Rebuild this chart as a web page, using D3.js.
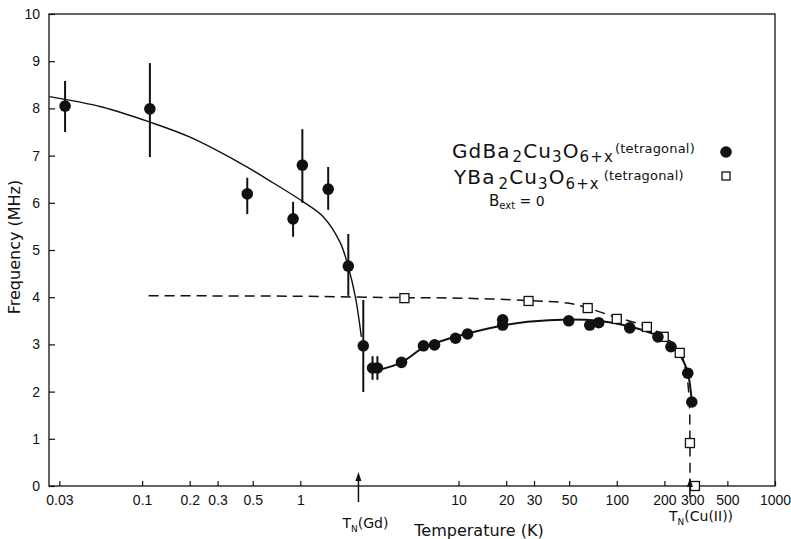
<!DOCTYPE html>
<html><head><meta charset="utf-8">
<script src="https://cdn.jsdelivr.net/npm/d3@7"></script>
<style>
html,body{margin:0;padding:0;background:#fff;}
svg{display:block;}
text{font-family:"Liberation Sans","DejaVu Sans",sans-serif;fill:#111;}
.dv{font-family:"DejaVu Sans","Liberation Sans",sans-serif;}
</style></head><body>
<svg id="chart" width="791" height="539"></svg>
<script>
// ---- data ----
const xTicks = [0.03, 0.1, 0.2, 0.3, 0.5, 1, 10, 20, 30, 50, 100, 200, 300, 500, 1000];
const xTickLabels = ["0.03","0.1","0.2","0.3","0.5","1","10","20","30","50","100","200","300","500","1000"];
const yTicks = [0,1,2,3,4,5,6,7,8,9,10];

const gdT = [0.0326, 0.112, 0.462, 0.90, 1.03, 1.50, 2.01, 2.50, 2.86, 3.07, 4.36, 6.0, 7.05, 9.57, 11.4, 19.0, 19.0, 49.7, 67.5, 76.9, 120.8, 182, 220, 281, 298];
const gdF = [8.05, 7.99, 6.19, 5.66, 6.80, 6.29, 4.66, 2.97, 2.50, 2.50, 2.62, 2.97, 2.99, 3.13, 3.22, 3.52, 3.41, 3.50, 3.41, 3.46, 3.35, 3.16, 2.95, 2.39, 1.78];
const gdErrLo = [7.50, 6.97, 5.76, 5.28, 6.00, 5.85, 4.03, 1.99, 2.25, 2.25];
const gdErrHi = [8.58, 8.96, 6.53, 6.02, 7.56, 6.76, 5.34, 3.94, 2.75, 2.75];

const ybcoT = [4.55, 27.7, 65.5, 100, 155, 198, 250, 290, 312];
const ybcoF = [3.98, 3.92, 3.77, 3.54, 3.37, 3.16, 2.82, 0.91, 0.0];

// fitted curves
const fitGdLowT = [0.026, 0.0558, 0.112, 0.201, 0.417, 0.675, 1.045, 1.40, 1.79, 2.01, 2.23, 2.43];
const fitGdLowF = [8.25, 8.03, 7.71, 7.39, 6.84, 6.42, 6.02, 5.70, 5.15, 4.64, 4.00, 3.16];
const fitGdHighT = [3.21, 4.36, 6.0, 8.27, 11.4, 19.0, 27.3, 49.7, 76.9, 121, 182, 220, 254, 281, 298];
const fitGdHighF = [2.47, 2.62, 2.93, 3.10, 3.23, 3.40, 3.48, 3.53, 3.50, 3.38, 3.18, 3.00, 2.75, 2.40, 1.78];
const fitYT = [0.11, 1, 4.55, 10, 27.7, 50, 65.5, 100, 155, 198, 250, 275, 287, 290, 290];
const fitYF = [4.03, 4.02, 3.99, 3.98, 3.93, 3.87, 3.77, 3.57, 3.38, 3.18, 2.85, 2.40, 1.80, 1.00, 0];

const TN_Gd = 2.33, TN_Cu = 290;

// ---- layout ----
const L = 49, R = 775, T = 14, B = 486;
const svg = d3.select("#chart");
const x = d3.scaleLog().domain([0.0258, 1000]).range([L, R]);
const y = d3.scaleLinear().domain([0, 10]).range([B, T]);

// frame
svg.append("rect").attr("x", L).attr("y", T).attr("width", R - L).attr("height", B - T)
  .attr("fill", "none").attr("stroke", "#111").attr("stroke-width", 1.3);

// x axis
const xAxis = d3.axisBottom(x).tickValues(xTicks).tickSize(-5).tickFormat((d,i)=>xTickLabels[i]);
const gx = svg.append("g").attr("transform", `translate(0,${B})`).call(xAxis);
gx.select(".domain").remove();
gx.selectAll("line").attr("stroke", "#111").attr("stroke-width", 1.2);
gx.selectAll("text").attr("y", 9).attr("font-size", 14).attr("fill", "#111");

// y axis
const yAxis = d3.axisLeft(y).tickValues(yTicks).tickSize(-6).tickFormat(d3.format("d"));
const gy = svg.append("g").attr("transform", `translate(${L},0)`).call(yAxis);
gy.select(".domain").remove();
gy.selectAll("line").attr("stroke", "#111").attr("stroke-width", 1.2);
gy.selectAll("text").attr("x", -9).attr("font-size", 14).attr("fill", "#111");

// axis titles
svg.append("text").attr("class", "dv").attr("x", 479).attr("y", 536).attr("text-anchor", "middle")
  .attr("font-size", 16).text("Temperature (K)");
svg.append("text").attr("class", "dv").attr("transform", "translate(20,247) rotate(-90)").attr("text-anchor", "middle")
  .attr("font-size", 16).text("Frequency (MHz)");

// curves
const line = d3.line().x(d => x(d[0])).y(d => y(d[1])).curve(d3.curveCatmullRom.alpha(0.5));
svg.append("path").datum(fitYT.map((t,i)=>[t, fitYF[i]])).attr("d", line)
  .attr("fill", "none").attr("stroke", "#111").attr("stroke-width", 1.5).attr("stroke-dasharray", "10,6");
svg.append("path").datum(fitGdLowT.map((t,i)=>[t, fitGdLowF[i]])).attr("d", line)
  .attr("fill", "none").attr("stroke", "#111").attr("stroke-width", 1.4);
svg.append("path").datum(fitGdHighT.map((t,i)=>[t, fitGdHighF[i]])).attr("d", line)
  .attr("fill", "none").attr("stroke", "#111").attr("stroke-width", 2);

// error bars
gdErrLo.forEach((lo, i) => {
  svg.append("line").attr("x1", x(gdT[i])).attr("x2", x(gdT[i]))
    .attr("y1", y(lo)).attr("y2", y(gdErrHi[i])).attr("stroke", "#111").attr("stroke-width", 2);
});

// YBCO squares
svg.append("g").selectAll("rect").data(ybcoT).join("rect")
  .attr("x", (d) => x(d) - 4.5).attr("y", (d,i) => y(ybcoF[i]) - 4.5)
  .attr("width", 9).attr("height", 9).attr("fill", "#fff").attr("stroke", "#111").attr("stroke-width", 1.3);

// Gd circles
svg.append("g").selectAll("circle").data(gdT).join("circle")
  .attr("cx", d => x(d)).attr("cy", (d,i) => y(gdF[i])).attr("r", 5.8).attr("fill", "#111");

// T_N arrows
function upArrow(xx, yTop, yBot) {
  svg.append("line").attr("x1", xx).attr("x2", xx).attr("y1", yBot).attr("y2", yTop + 4)
    .attr("stroke", "#111").attr("stroke-width", 1.5);
  svg.append("path").attr("d", `M${xx},${yTop} L${xx - 3},${yTop + 9} L${xx + 3},${yTop + 9} Z`).attr("fill", "#111");
}
upArrow(x(TN_Gd), 472, 502);
upArrow(x(TN_Cu), 478, 497);

const tnGd = svg.append("text").attr("class", "dv").attr("x", x(TN_Gd) - 16).attr("y", 528).attr("font-size", 14);
tnGd.append("tspan").text("T");
tnGd.append("tspan").attr("font-size", 9).attr("dy", 4).text("N");
tnGd.append("tspan").attr("dy", -4).text("(Gd)");
const tnCu = svg.append("text").attr("class", "dv").attr("x", 669).attr("y", 521).attr("font-size", 14);
tnCu.append("tspan").text("T");
tnCu.append("tspan").attr("font-size", 9).attr("dy", 4).text("N");
tnCu.append("tspan").attr("dy", -4).text("(Cu(II))");

// legend
function formula(g, xx, yy, parts) {
  const t = g.append("text").attr("class", "dv").attr("x", xx).attr("y", yy).attr("font-size", 20)
    .attr("letter-spacing", 1.1);
  let prev = 0;
  parts.forEach(p => {
    const s = t.append("tspan").text(p.t).attr("font-size", p.fs || 20).attr("dy", (p.dy||0) - prev);
    if (p.dx) s.attr("dx", p.dx);
    if (p.ls !== undefined) s.attr("letter-spacing", p.ls);
    prev = p.dy || 0;
  });
  return t;
}
const lg = svg.append("g");
formula(lg, 452, 158, [{t:"GdBa"},{t:"2",fs:15,dy:4,dx:2},{t:"Cu"},{t:"3",fs:15,dy:4},{t:"O"},{t:"6+x",fs:15,dy:4},{t:"(tetragonal)",fs:13,dy:-5,dx:1,ls:0.2}]);
formula(lg, 454, 184, [{t:"YBa"},{t:"2",fs:15,dy:5,dx:3},{t:"Cu"},{t:"3",fs:15,dy:5},{t:"O"},{t:"6+x",fs:15,dy:5},{t:"(tetragonal)",fs:13,dy:-4,dx:4,ls:0.2}]);
lg.append("circle").attr("cx", 726).attr("cy", 152).attr("r", 5.8).attr("fill", "#111");
lg.append("rect").attr("x", 722).attr("y", 172).attr("width", 8).attr("height", 8)
  .attr("fill", "#fff").attr("stroke", "#111").attr("stroke-width", 1.3);
const bt = lg.append("text").attr("class", "dv").attr("x", 489).attr("y", 206).attr("font-size", 15);
bt.append("tspan").text("B");
bt.append("tspan").attr("font-size", 10).attr("dy", 3).text("ext");
bt.append("tspan").attr("dy", -3).attr("font-size", 14).text(" = 0");
</script></body></html>
